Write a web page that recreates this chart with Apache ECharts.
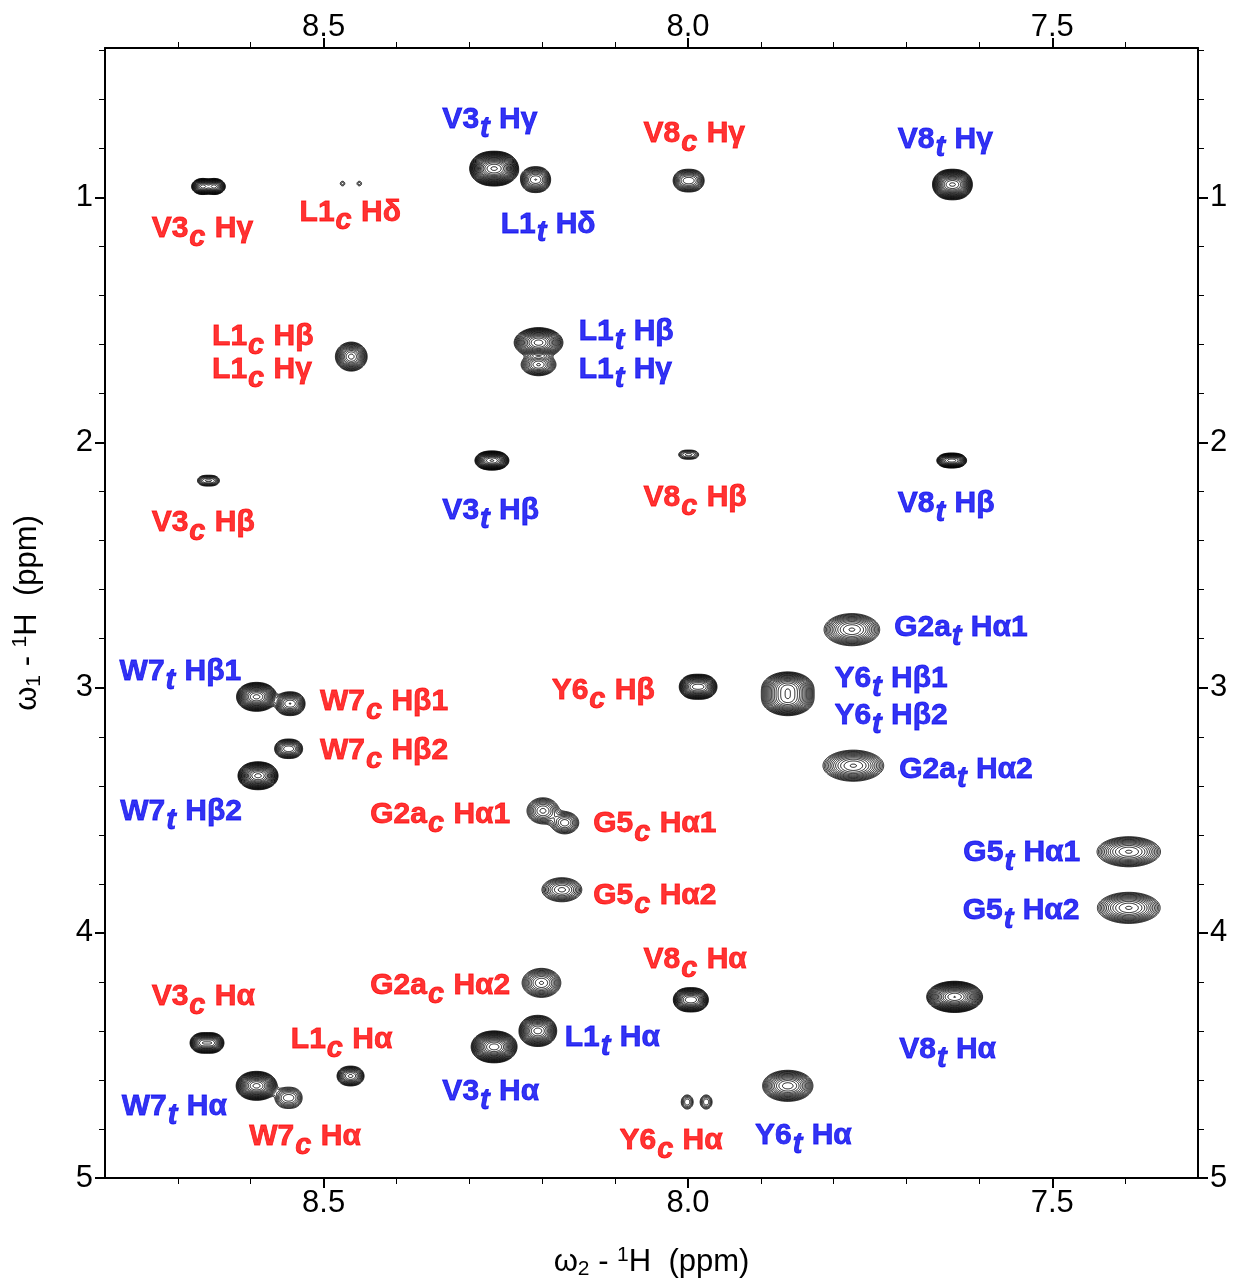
<!DOCTYPE html>
<html>
<head>
<meta charset="utf-8">
<script src="https://cdn.jsdelivr.net/npm/echarts@6/dist/echarts.min.js"></script>
<style>
  html, body { margin: 0; padding: 0; background: #fff; }
  #main { width: 1238px; height: 1281px; }
</style>
</head>
<body>
<div id="main"></div>
<script>
// cross peaks: w2 / w1 shift (ppm), intensity, gaussian linewidth (ppm), doublet splitting in w2 (ppm)
const peakW2 = [8.658, 8.474, 8.451, 8.266, 8.209, 7.999, 7.637, 8.462, 8.205, 8.205,
  8.658, 8.269, 7.999, 7.638, 8.592, 8.546, 8.548, 8.590, 7.986, 8.199,
  8.169, 8.173, 7.775, 7.863, 7.863, 7.773, 7.395, 7.395, 8.660, 8.592,
  8.548, 8.463, 8.201, 8.206, 8.266, 7.996, 8.001, 7.975, 7.863, 7.634];
const peakW1 = [0.955, 0.943, 0.943, 0.882, 0.927, 0.931, 0.947, 1.649, 1.592, 1.682,
  2.155, 2.073, 2.049, 2.073, 3.037, 3.065, 3.249, 3.359, 2.996, 3.502,
  3.551, 3.824, 2.763, 3.000, 3.049, 3.318, 3.669, 3.898, 4.449, 4.624,
  4.673, 4.584, 4.204, 4.400, 4.465, 4.273, 4.690, 4.690, 4.624, 4.261];
const peakAmp = [20, 1.4, 1.4, 60, 10, 8, 40, 20, 40, 12,
  4, 25, 2.5, 15, 30, 10, 8, 30, 25, 8,
  7, 8, 15, 30, 30, 15, 15, 15, 20, 30,
  4, 8, 12, 20, 40, 20, 3, 3, 12, 40];
const peakSigW2 = [0.0061, 0.0038, 0.0038, 0.0093, 0.0070, 0.0074, 0.0078, 0.0089, 0.0123, 0.0107,
  0.0057, 0.0070, 0.0060, 0.0064, 0.0084, 0.0070, 0.0067, 0.0084, 0.0075, 0.0107,
  0.0097, 0.0134, 0.0164, 0.0135, 0.0135, 0.0179, 0.0187, 0.0185, 0.0067, 0.0086,
  0.0074, 0.0067, 0.0119, 0.0083, 0.0093, 0.0073, 0.0055, 0.0055, 0.0123, 0.0118];
const peakSigW1 = [0.0133, 0.0114, 0.0114, 0.0236, 0.0228, 0.0210, 0.0218, 0.0241, 0.0225, 0.0201,
  0.0122, 0.0145, 0.0121, 0.0123, 0.0211, 0.0209, 0.0180, 0.0204, 0.0193, 0.0260,
  0.0228, 0.0240, 0.0281, 0.0248, 0.0248, 0.0272, 0.0263, 0.0272, 0.0167, 0.0211,
  0.0233, 0.0180, 0.0265, 0.0241, 0.0225, 0.0192, 0.0193, 0.0193, 0.0257, 0.0218];
const peakJ = [0.0164, 0, 0, 0.0137, 0.011, 0.0123, 0.0123, 0, 0, 0,
  0.011, 0.011, 0.011, 0.011, 0.011, 0.011, 0.011, 0.011, 0.0137, 0,
  0, 0, 0, 0, 0, 0, 0, 0, 0.0137, 0.011,
  0.0123, 0.0096, 0, 0.011, 0.0123, 0.0123, 0, 0, 0.0137, 0.0123];

// assignments: residue, conformer (c = cis, t = trans), proton, position (w2, w1 ppm)
const labelRes = ['V3', 'L1', 'V3', 'L1', 'V8', 'V8', 'L1', 'L1', 'L1', 'L1',
  'V3', 'V3', 'V8', 'V8', 'G2a', 'W7', 'Y6', 'Y6', 'Y6', 'W7',
  'W7', 'G2a', 'W7', 'G2a', 'G5', 'G5', 'G5', 'G5', 'V8', 'G2a',
  'V3', 'L1', 'L1', 'V8', 'V3', 'W7', 'W7', 'Y6', 'Y6'];
const labelForm = ['c', 'c', 't', 't', 'c', 't', 'c', 'c', 't', 't',
  'c', 't', 'c', 't', 't', 't', 'c', 't', 't', 'c',
  'c', 't', 't', 'c', 'c', 't', 'c', 't', 'c', 'c',
  'c', 'c', 't', 't', 't', 't', 'c', 'c', 't'];
const labelAtom = ['Hγ', 'Hδ', 'Hγ', 'Hδ', 'Hγ', 'Hγ', 'Hβ', 'Hγ', 'Hβ', 'Hγ',
  'Hβ', 'Hβ', 'Hβ', 'Hβ', 'Hα1', 'Hβ1', 'Hβ', 'Hβ1', 'Hβ2', 'Hβ1',
  'Hβ2', 'Hα2', 'Hβ2', 'Hα1', 'Hα1', 'Hα1', 'Hα2', 'Hα2', 'Hα', 'Hα2',
  'Hα', 'Hα', 'Hα', 'Hα', 'Hα', 'Hα', 'Hα', 'Hα', 'Hα'];
const labelW2 = [8.736, 8.533, 8.337, 8.257, 8.061, 7.712, 8.653, 8.653, 8.150, 8.150,
  8.736, 8.337, 8.061, 7.712, 7.717, 8.780, 8.187, 7.799, 7.799, 8.505,
  8.505, 7.710, 8.779, 8.436, 8.130, 7.622, 8.130, 7.623, 8.061, 8.436,
  8.736, 8.545, 8.169, 7.710, 8.337, 8.777, 8.602, 8.094, 7.908];
const labelW1 = [1.127, 1.061, 0.682, 1.110, 0.739, 0.763, 1.567, 1.702, 1.547, 1.702,
  2.327, 2.278, 2.224, 2.249, 2.755, 2.935, 3.012, 2.963, 3.114, 3.057,
  3.257, 3.335, 3.506, 3.518, 3.555, 3.673, 3.849, 3.910, 4.110, 4.216,
  4.261, 4.437, 4.429, 4.478, 4.649, 4.710, 4.833, 4.849, 4.829];

const majorX = [7.5, 8.0, 8.5];
const minorX = [7.4, 7.6, 7.7, 7.8, 7.9, 8.1, 8.2, 8.3, 8.4, 8.6, 8.7];
const majorY = [1, 2, 3, 4, 5];
const minorY = [0.4, 0.6, 0.8, 1.2, 1.4, 1.6, 1.8, 2.2, 2.4, 2.6, 2.8, 3.2, 3.4, 3.6, 3.8,
  4.2, 4.4, 4.6, 4.8];

const X_MIN = 7.3, X_MAX = 8.8, Y_MIN = 0.39, Y_MAX = 5.0;

// contour levels: geometric series, like the spectrum plot
const LEVEL_BASE = 1, LEVEL_RATIO = 1.25;

// sum of gaussian peaks on a grid, then marching squares
function buildContours() {
  const nx = 1500, ny = 1150;
  const dx = (X_MAX - X_MIN) / nx, dy = (Y_MAX - Y_MIN) / ny;
  const W = nx + 1;
  const field = new Float32Array(W * (ny + 1));
  const comps = [];
  for (let k = 0; k < peakW2.length; k++) {
    if (peakJ[k] > 0) {
      comps.push([peakW2[k] - peakJ[k] / 2, peakW1[k], peakAmp[k], peakSigW2[k], peakSigW1[k]]);
      comps.push([peakW2[k] + peakJ[k] / 2, peakW1[k], peakAmp[k], peakSigW2[k], peakSigW1[k]]);
    } else {
      comps.push([peakW2[k], peakW1[k], peakAmp[k], peakSigW2[k], peakSigW1[k]]);
    }
  }
  comps.forEach(c => {
    const i0 = Math.max(0, Math.floor((c[0] - 5 * c[3] - X_MIN) / dx));
    const i1 = Math.min(nx, Math.ceil((c[0] + 5 * c[3] - X_MIN) / dx));
    const j0 = Math.max(0, Math.floor((c[1] - 5 * c[4] - Y_MIN) / dy));
    const j1 = Math.min(ny, Math.ceil((c[1] + 5 * c[4] - Y_MIN) / dy));
    const ex = [];
    for (let i = i0; i <= i1; i++) {
      const u = (X_MIN + i * dx - c[0]) / c[3];
      ex.push(Math.exp(-0.5 * u * u));
    }
    for (let j = j0; j <= j1; j++) {
      const v = (Y_MIN + j * dy - c[1]) / c[4];
      const ey = c[2] * Math.exp(-0.5 * v * v);
      for (let i = i0; i <= i1; i++) field[j * W + i] += ey * ex[i - i0];
    }
  });

  // cells that reach the lowest level
  const active = [];
  let fmax = 0;
  for (let j = 0; j < ny; j++) {
    for (let i = 0; i < nx; i++) {
      const a = field[j * W + i], b = field[j * W + i + 1],
        c = field[(j + 1) * W + i + 1], d = field[(j + 1) * W + i];
      const m = Math.max(a, b, c, d);
      if (m >= LEVEL_BASE && Math.min(a, b, c, d) < m) active.push(j * W + i);
      if (m > fmax) fmax = m;
    }
  }

  const segs = [];
  for (let L = LEVEL_BASE; L < fmax; L *= LEVEL_RATIO) {
    for (let n = 0; n < active.length; n++) {
      const idx = active[n];
      const i = idx % W, j = (idx - i) / W;
      const v0 = field[idx], v1 = field[idx + 1], v2 = field[idx + W + 1], v3 = field[idx + W];
      const b0 = v0 >= L, b1 = v1 >= L, b2 = v2 >= L, b3 = v3 >= L;
      if (b0 === b1 && b1 === b2 && b2 === b3) continue;
      const pts = {};
      if (b0 !== b1) pts[0] = [i + (L - v0) / (v1 - v0), j];
      if (b1 !== b2) pts[1] = [i + 1, j + (L - v1) / (v2 - v1)];
      if (b3 !== b2) pts[2] = [i + (L - v3) / (v2 - v3), j + 1];
      if (b0 !== b3) pts[3] = [i, j + (L - v0) / (v3 - v0)];
      const keys = Object.keys(pts);
      if (keys.length === 2) {
        segs.push(pts[keys[0]][0], pts[keys[0]][1], pts[keys[1]][0], pts[keys[1]][1]);
      } else if (keys.length === 4) {
        const centre = (v0 + v1 + v2 + v3) / 4 >= L;
        if (centre === b0) {
          segs.push(pts[0][0], pts[0][1], pts[1][0], pts[1][1]);
          segs.push(pts[2][0], pts[2][1], pts[3][0], pts[3][1]);
        } else {
          segs.push(pts[3][0], pts[3][1], pts[0][0], pts[0][1]);
          segs.push(pts[1][0], pts[1][1], pts[2][0], pts[2][1]);
        }
      }
    }
  }
  return { segs: segs, dx: dx, dy: dy };
}

const contours = buildContours();

const RED = '#ff0000', BLUE = '#0000f0';
const LABEL_FONT = '"Liberation Sans", Arial, Helvetica, sans-serif';
const TICK_FONT = '"Liberation Sans Narrow", "Liberation Sans", Arial, sans-serif';

function labelData(form) {
  const out = [];
  for (let k = 0; k < labelRes.length; k++) {
    if (labelForm[k] !== form) continue;
    out.push({ value: [labelW2[k], labelW1[k]], res: labelRes[k], form: labelForm[k], atom: labelAtom[k] });
  }
  return out;
}

function labelSeries(form, color) {
  const base = { fontWeight: 'bold', fontFamily: LABEL_FONT, color: color,
    textBorderColor: color, textBorderWidth: 0.8, lineHeight: 30, verticalAlign: 'middle' };
  return {
    type: 'scatter',
    xAxisIndex: 0,
    yAxisIndex: 0,
    symbolSize: 0,
    silent: true,
    data: labelData(form),
    label: {
      show: true,
      position: [0, 0],
      align: 'left',
      verticalAlign: 'middle',
      formatter: p => '{m|' + p.data.res + '}{s|' + p.data.form + '}{m| ' + p.data.atom + '}',
      rich: {
        m: Object.assign({ fontSize: 30 }, base),
        s: Object.assign({ fontSize: 29, fontStyle: 'italic', padding: [18, 1, 0, 1] }, base)
      }
    }
  };
}

function xAxisDef(position, values, len, width, labels, margin) {
  return {
    type: 'value', position: position, min: X_MIN, max: X_MAX, inverse: true,
    axisLine: { show: labels, lineStyle: { color: '#000', width: 2 } },
    axisTick: { show: true, inside: false, length: len, customValues: values,
      lineStyle: { color: '#000', width: width } },
    axisLabel: { show: labels, customValues: values, margin: margin, formatter: v => v.toFixed(1),
      fontSize: 31, fontFamily: TICK_FONT, color: '#000' },
    splitLine: { show: false }
  };
}

function yAxisDef(position, values, len, width, labels) {
  return {
    type: 'value', position: position, min: Y_MIN, max: Y_MAX, inverse: true,
    axisLine: { show: labels, lineStyle: { color: '#000', width: 2 } },
    axisTick: { show: true, inside: false, length: len, customValues: values,
      lineStyle: { color: '#000', width: width } },
    axisLabel: { show: labels, customValues: values, margin: 12, formatter: v => String(v),
      fontSize: 31, fontFamily: TICK_FONT, color: '#000' },
    splitLine: { show: false }
  };
}

const chart = echarts.init(document.getElementById('main'), null, { renderer: 'canvas' });

const xAxes = [
  xAxisDef('bottom', majorX, 10, 2, true, 10),
  xAxisDef('bottom', minorX, 6, 1, false, 10),
  xAxisDef('top', majorX, 10, 2, true, 5),
  xAxisDef('top', minorX, 6, 1, false, 5)
];
xAxes[0].name = '{n|ω}{sb|2}{n| - }{sp|1}{n|H  (ppm)}';
xAxes[0].nameLocation = 'middle';
xAxes[0].nameGap = 66;

const yAxes = [
  yAxisDef('left', majorY, 10, 2, true),
  yAxisDef('left', minorY, 6, 1, false),
  yAxisDef('right', majorY, 10, 2, true),
  yAxisDef('right', minorY, 6, 1, false)
];
yAxes[0].name = '{n|ω}{sb|1}{n| - }{sp|1}{n|H  (ppm)}';
yAxes[0].nameLocation = 'middle';
yAxes[0].nameGap = 60;
yAxes[0].nameRotate = 90;

const nameStyle = {
  color: '#000',
  rich: {
    n: { fontSize: 31, fontFamily: LABEL_FONT, color: '#000', lineHeight: 36, verticalAlign: 'middle' },
    sb: { fontSize: 21, fontFamily: LABEL_FONT, color: '#000', lineHeight: 36, verticalAlign: 'middle', padding: [14, 0, 0, 0] },
    sp: { fontSize: 21, fontFamily: LABEL_FONT, color: '#000', lineHeight: 36, verticalAlign: 'middle', padding: [0, 0, 14, 0] }
  }
};
xAxes[0].nameTextStyle = nameStyle;
yAxes[0].nameTextStyle = nameStyle;

chart.setOption({
  animation: false,
  backgroundColor: '#fff',
  grid: { left: 105, right: 40, top: 48, bottom: 103, containLabel: false, outerBoundsMode: 'none' },
  xAxis: xAxes,
  yAxis: yAxes,
  series: [
    {
      type: 'custom',
      xAxisIndex: 0,
      yAxisIndex: 0,
      coordinateSystem: 'cartesian2d',
      silent: true,
      clip: true,
      data: [[X_MIN, Y_MIN]],
      renderItem: function (params, api) {
        const p0 = api.coord([X_MIN, Y_MIN]);
        const p1 = api.coord([X_MAX, Y_MAX]);
        const sx = (p1[0] - p0[0]) * contours.dx / (X_MAX - X_MIN);
        const sy = (p1[1] - p0[1]) * contours.dy / (Y_MAX - Y_MIN);
        const s = contours.segs;
        const parts = [];
        for (let k = 0; k < s.length; k += 4) {
          parts.push('M' + (p0[0] + s[k] * sx).toFixed(2) + ' ' + (p0[1] + s[k + 1] * sy).toFixed(2) +
            'L' + (p0[0] + s[k + 2] * sx).toFixed(2) + ' ' + (p0[1] + s[k + 3] * sy).toFixed(2));
        }
        return {
          type: 'path',
          shape: { pathData: parts.join('') },
          style: { fill: 'none', stroke: '#000', lineWidth: 0.9 }
        };
      }
    },
    labelSeries('c', RED),
    labelSeries('t', BLUE)
  ]
});
</script>
</body>
</html>
